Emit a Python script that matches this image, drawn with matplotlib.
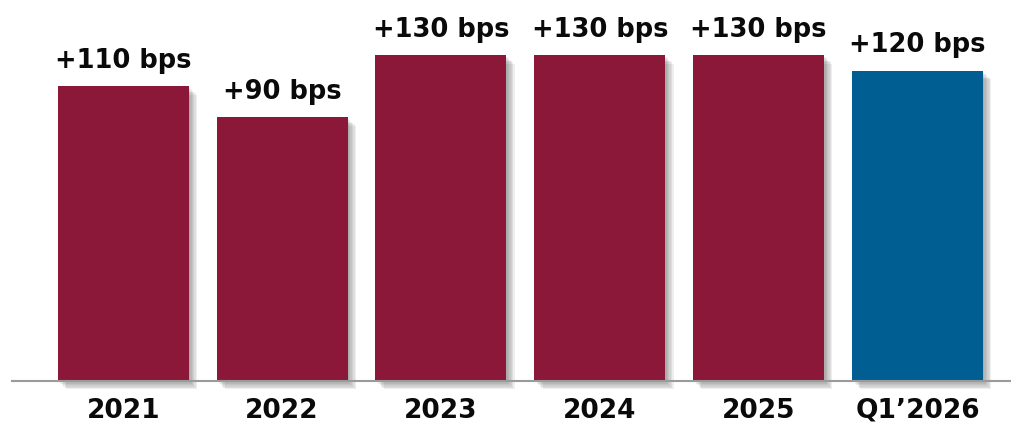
import matplotlib
matplotlib.use("Agg")
import matplotlib.pyplot as plt
import matplotlib.patheffects as pe

categories = ["2021", "2022", "2023", "2024", "2025", "Q1\u20192026"]
values = [110, 90, 130, 130, 130, 120]
labels = ["+110 bps", "+90 bps", "+130 bps", "+130 bps", "+130 bps", "+120 bps"]
colors = ["#8B1739", "#8B1739", "#8B1739", "#8B1739", "#8B1739", "#005E92"]

ymin, ymax = -80, 165.8

fig = plt.figure(figsize=(10.12, 4.26), dpi=100)
ax = fig.add_axes([12 / 1012, 45 / 426, 1000 / 1012, 381 / 426])

x = list(range(len(categories)))
shadow = [pe.SimplePatchShadow(offset=(o, -o), shadow_rgbFace="#444444", alpha=0.09)
          for o in (1.0, 2.0, 3.0, 4.0, 5.0, 6.0)] + [pe.Normal()]
bars = ax.bar(x, [v - ymin for v in values], bottom=ymin, width=0.825,
              color=colors, zorder=3, clip_on=False)
for b in bars:
    b.set_path_effects(shadow)

for xi, v, lab in zip(x, values, labels):
    ax.annotate(lab, (xi, v), xytext=(0, 13.5), textcoords="offset points",
                ha="center", va="baseline", fontsize=18.5, fontweight="bold",
                family="DejaVu Sans", color="#0a0a0a")

ax.set_xlim(-0.70, 5.595)
ax.set_ylim(ymin, ymax)
ax.set_xticks(x)
ax.set_xticklabels(categories, fontsize=19, fontweight="bold", color="#0a0a0a")
ax.tick_params(axis="x", length=0, pad=12)
ax.set_yticks([])
for s in ["top", "right", "left"]:
    ax.spines[s].set_visible(False)
ax.spines["bottom"].set_color("#9a9a9a")
ax.spines["bottom"].set_linewidth(1.5)
ax.spines["bottom"].set_zorder(4)

fig.savefig("out.png", dpi=100)
